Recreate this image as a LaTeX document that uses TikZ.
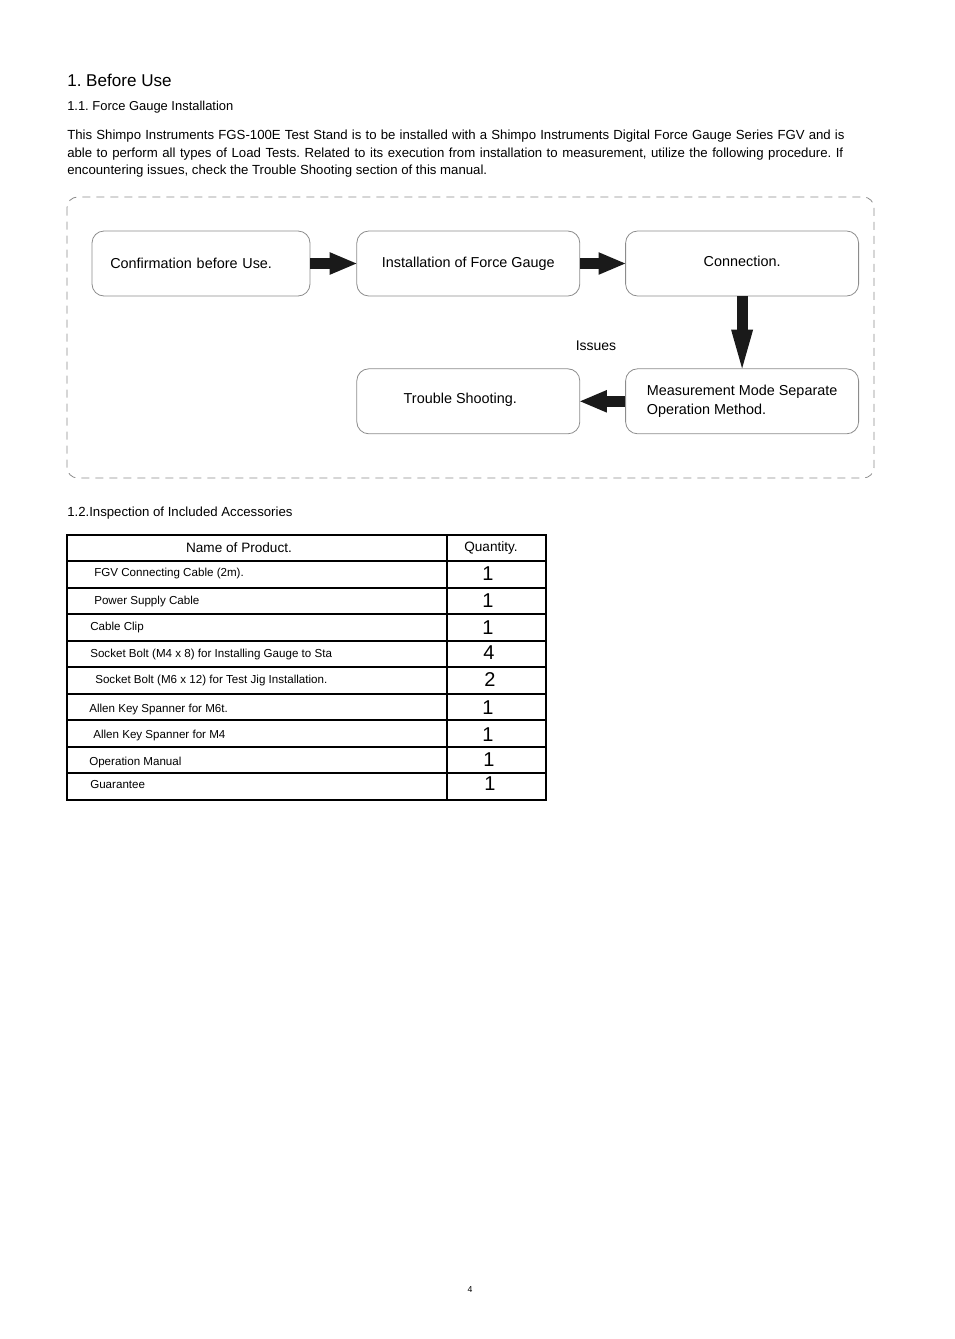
\documentclass[tikz,border=0pt]{standalone}
\usepackage{fontspec}
\setmainfont{Liberation Sans}
\usetikzlibrary{arrows.meta,positioning}
\definecolor{boxgray}{HTML}{8C8C8C}
\definecolor{arrowblack}{HTML}{1A1A1A}
\frenchspacing

\begin{document}
\begin{tikzpicture}[x=0.75pt,y=-0.75pt,node distance=34pt,
    stepbox/.style={draw=boxgray,rounded corners=9pt,line width=0.6pt,minimum height=48.75pt,inner sep=0pt,font=\fontsize{10.8}{14}\selectfont},
    blockarrow/.style={draw=arrowblack,line width=8.25pt,-{Triangle[length=20pt,width=17pt,line width=0pt]}},
    bodytext/.style={anchor=base west,inner sep=0pt,font=\fontsize{9.9}{12}\selectfont},
    itemtext/.style={anchor=west,inner sep=0pt,font=\fontsize{8.7}{10}\selectfont},
    qtytext/.style={inner sep=0pt,font=\fontsize{15}{17}\selectfont}]
      \useasboundingbox (0,0) rectangle (954,1339);

      % heading and text
      \node[anchor=base west,inner sep=0pt,font=\fontsize{12.8}{15}\selectfont] (title) at (67,86) {1. Before Use};
      \node[bodytext,font=\fontsize{9.7}{12}\selectfont] (sub1) at (67,110) {1.1. Force Gauge Installation};
      \node[bodytext] (par1) at (67,139)
        {\makebox[583pt][s]{This Shimpo Instruments FGS-100E Test Stand is to be installed with a Shimpo Instruments Digital Force Gauge Series FGV and is}};
      \node[bodytext] (par2) at (67,157)
        {\makebox[582pt][s]{able to perform all types of Load Tests. Related to its execution from installation to measurement, utilize the following procedure. If}};
      \node[bodytext] (par3) at (67,174)
        {encountering issues, check the Trouble Shooting section of this manual.};

      % flow
      \draw[boxgray,line width=0.6pt,dash pattern=on 6pt off 4.5pt,rounded corners=8pt] (67,197) rectangle (874,478);
      \node[stepbox,minimum width=163.5pt,text width=136pt,align=left] (confirm) at (201,263.5) {Confirmation before Use.};
      \node[stepbox,minimum width=167.25pt,right=34.5pt of confirm] (install) {Installation of Force Gauge};
      \node[stepbox,minimum width=174.75pt,right=33.75pt of install] (connect) {\raisebox{4pt}{Connection.}};
      \node[stepbox,minimum width=174.75pt,align=left,below=54pt of connect] (measure) {Measurement Mode Separate\\Operation Method.};
      \node[stepbox,minimum width=167.25pt,left=33.75pt of measure] (trouble) {\raisebox{4pt}{Trouble Shooting.}\hspace*{12pt}};
      \node[font=\fontsize{10.5}{12}\selectfont] (issues) at (596,346) {Issues};

      \path (confirm.east) edge[blockarrow] (install.west)
            (install.east) edge[blockarrow] (connect.west)
            (connect.south) edge[blockarrow,-{Triangle[length=29pt,width=16.5pt,line width=0pt]}] (measure.north)
            (measure.west) edge[blockarrow] (trouble.east)
            ;

      % accessories
      \node[bodytext] (sub2) at (67,516) {1.2.Inspection of Included Accessories};
      \draw[line width=1.3pt] (67,535) rectangle (546,800);
      \draw[line width=0.8pt] (447,535) -- (447,800);
      \foreach \y in {561,614,667,720,773}
        \draw[line width=0.8pt] (67,\y) -- (546,\y);
      \foreach \y in {588,641,694,747}
        \draw[line width=1.5pt] (67,\y) -- (546,\y);
      \node[font=\fontsize{10.2}{12}\selectfont] (namehead) at (239,548) {Name of Product.};
      \node[font=\fontsize{10.2}{12}\selectfont] (qtyhead) at (491,548) {Quantity.};
      \foreach \x/\y/\t [count=\i] in {94/573/{FGV Connecting Cable (2m).},94/601/{Power Supply Cable},90/627/{Cable Clip},
          90/654/{Socket Bolt (M4 x 8) for Installing Gauge to Sta},95/680/{Socket Bolt (M6 x 12) for Test Jig Installation.},
          89/709/{Allen Key Spanner for M6t.},93/735/{Allen Key Spanner for M4},89/762/{Operation Manual},90/784/{Guarantee}}
        \node[itemtext] (item\i) at (\x,\y) {\t};
      \foreach \x/\y/\q [count=\i] in {488/574/1,488/601/1,488/628/1,489/653/4,490/680/2,488/708/1,488/735/1,489/760/1,490/784/1}
        \node[qtytext] (qty\i) at (\x,\y) {\q};

      \node[font=\fontsize{6.5}{8}\selectfont] (page) at (470,1290) {4};
    \end{tikzpicture}
\end{document}
